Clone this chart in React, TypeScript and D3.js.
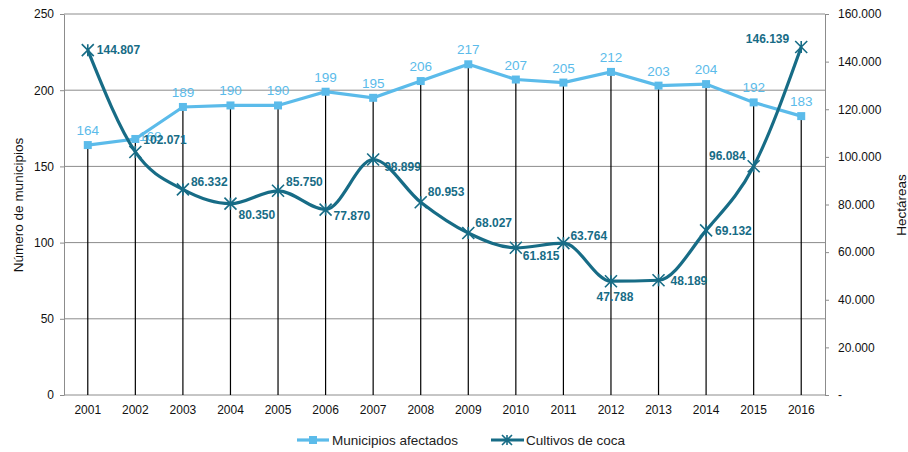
import React, { useEffect, useRef } from 'react';
import * as d3 from 'd3';

const years = ['2001', '2002', '2003', '2004', '2005', '2006', '2007', '2008', '2009', '2010', '2011', '2012', '2013', '2014', '2015', '2016'];
const municipios = [164, 168, 189, 190, 190, 199, 195, 206, 217, 207, 205, 212, 203, 204, 192, 183];
const coca = [144807, 102071, 86332, 80350, 85750, 77870, 98899, 80953, 68027, 61815, 63764, 47788, 48189, 69132, 96084, 146139];
const leftTicks = [0, 50, 100, 150, 200, 250];
const rightTicks = [0, 20000, 40000, 60000, 80000, 100000, 120000, 140000, 160000];
// where each coca label sits relative to its point: [dx, dy, anchor]
const cocaLabelPos: [number, number, string][] = [
  [9, 4, 'start'], [8, -8, 'start'], [8, -3, 'start'], [8, 15, 'start'], [8, -5, 'start'],
  [8, 10, 'start'], [11, 12, 'start'], [7, -6, 'start'], [7, -6, 'start'], [7, 12, 'start'],
  [7, -3, 'start'], [4, 20, 'middle'], [12, 5, 'start'], [9, 5, 'start'], [-8, -6, 'end'], [-12, -4, 'end'],
];
// municipio label offsets (the 2002 one sits behind the coca label, as in the source)
const munLabelPos: [number, number][] = years.map((_, i) => (i === 1 ? [15, 2] : [0, -10]));

const LIGHT = '#5BBBEA';
const DARK = '#176C86';
const FONT = '"Liberation Sans", Arial, sans-serif';

export default function App() {
  const ref = useRef<SVGSVGElement>(null);

  useEffect(() => {
    const svg = d3.select(ref.current);
    svg.selectAll('*').remove();
    const m = { left: 64, right: 825, top: 14, bottom: 395 };

    const x = d3.scaleBand().domain(years).range([m.left, m.right]);
    const cx = (d: string) => (x(d) as number) + x.bandwidth() / 2;
    const yL = d3.scaleLinear().domain([0, 250]).range([m.bottom, m.top]);
    const yR = d3.scaleLinear().domain([0, 160000]).range([m.bottom, m.top]);

    // gridlines
    svg.append('g').selectAll('line').data(leftTicks.slice(1)).enter().append('line')
      .attr('x1', m.left).attr('x2', m.right)
      .attr('y1', d => yL(d)).attr('y2', d => yL(d))
      .attr('stroke', '#8c8c8c').attr('stroke-width', 1);

    // axes
    const leftAxis = svg.append('g').attr('transform', `translate(${m.left},0)`)
      .call(d3.axisLeft(yL).tickValues(leftTicks).tickSize(4).tickSizeOuter(0));
    const rightAxis = svg.append('g').attr('transform', `translate(${m.right},0)`)
      .call(d3.axisRight(yR).tickValues(rightTicks).tickSize(4).tickSizeOuter(0)
        .tickFormat(d => (+d === 0 ? '-' : d3.format(',')(+d).replace(/,/g, '.'))));
    const bottomAxis = svg.append('g').attr('transform', `translate(0,${m.bottom})`)
      .call(d3.axisBottom(x).tickSize(0).tickSizeOuter(0));
    [leftAxis, rightAxis, bottomAxis].forEach(a => {
      a.selectAll('path').attr('stroke', '#8c8c8c');
      a.selectAll('line').attr('stroke', '#8c8c8c');
      a.selectAll('text').attr('font-family', FONT).attr('font-size', 12).attr('fill', '#111');
    });
    leftAxis.selectAll('text').attr('x', -10);
    rightAxis.selectAll('text').attr('x', 13);
    bottomAxis.selectAll('text').attr('y', 10);
    bottomAxis.select('path').remove();
    svg.append('line').attr('x1', m.left).attr('x2', m.right).attr('y1', m.bottom).attr('y2', m.bottom)
      .attr('stroke', '#8c8c8c');

    // drop lines
    svg.append('g').selectAll('line').data(municipios).enter().append('line')
      .attr('x1', (d, i) => cx(years[i])).attr('x2', (d, i) => cx(years[i]))
      .attr('y1', d => yL(d)).attr('y2', m.bottom)
      .attr('stroke', '#000').attr('stroke-width', 1.2);

    // municipios series
    const lineL = d3.line<number>().x((d, i) => cx(years[i])).y(d => yL(d));
    svg.append('path').datum(municipios).attr('d', lineL)
      .attr('fill', 'none').attr('stroke', LIGHT).attr('stroke-width', 3.2);
    svg.append('g').selectAll('rect').data(municipios).enter().append('rect')
      .attr('x', (d, i) => cx(years[i]) - 4).attr('y', d => yL(d) - 4)
      .attr('width', 8).attr('height', 8).attr('fill', LIGHT);
    svg.append('g').selectAll('text').data(municipios).enter().append('text')
      .attr('x', (d, i) => cx(years[i]) + munLabelPos[i][0]).attr('y', (d, i) => yL(d) + munLabelPos[i][1])
      .attr('text-anchor', 'middle').attr('font-family', FONT).attr('font-size', 13.5)
      .attr('fill', LIGHT).text(d => d);

    // coca series
    const lineR = d3.line<number>().x((d, i) => cx(years[i])).y(d => yR(d)).curve(d3.curveMonotoneX);
    svg.append('path').datum(coca).attr('d', lineR)
      .attr('fill', 'none').attr('stroke', DARK).attr('stroke-width', 3.2);
    const marks = svg.append('g').selectAll('g').data(coca).enter().append('g')
      .attr('transform', (d, i) => `translate(${cx(years[i])},${yR(d)})`)
      .attr('stroke', DARK).attr('stroke-width', 1.6);
    marks.append('path').attr('d', 'M-6,-6L6,6M-6,6L6,-6M0,-6L0,6').attr('fill', 'none');
    svg.append('g').selectAll('text').data(coca).enter().append('text')
      .attr('x', (d, i) => cx(years[i]) + cocaLabelPos[i][0])
      .attr('y', (d, i) => yR(d) + cocaLabelPos[i][1])
      .attr('text-anchor', (d, i) => cocaLabelPos[i][2])
      .attr('font-family', FONT).attr('font-size', 12).attr('font-weight', 'bold')
      .attr('fill', DARK).text(d => d3.format(',')(d).replace(/,/g, '.'));

    // axis titles
    svg.append('text').attr('transform', 'translate(23,205) rotate(-90)')
      .attr('text-anchor', 'middle').attr('font-family', FONT).attr('font-size', 13.5)
      .attr('fill', '#111').text('Número de municipios');
    svg.append('text').attr('transform', 'translate(906,205) rotate(-90)')
      .attr('text-anchor', 'middle').attr('font-family', FONT).attr('font-size', 13.5)
      .attr('fill', '#111').text('Hectáreas');

    // legend
    const lg = svg.append('g').attr('font-family', FONT).attr('font-size', 13.5).attr('fill', '#222');
    lg.append('line').attr('x1', 297).attr('x2', 329).attr('y1', 440).attr('y2', 440)
      .attr('stroke', LIGHT).attr('stroke-width', 3.2);
    lg.append('rect').attr('x', 309).attr('y', 436).attr('width', 8).attr('height', 8).attr('fill', LIGHT);
    lg.append('text').attr('x', 332).attr('y', 445).text('Municipios afectados');
    lg.append('line').attr('x1', 491).attr('x2', 524).attr('y1', 440).attr('y2', 440)
      .attr('stroke', DARK).attr('stroke-width', 3.2);
    lg.append('path').attr('d', 'M502,435L512,445M502,445L512,435M507,435L507,445')
      .attr('stroke', DARK).attr('stroke-width', 1.6);
    lg.append('text').attr('x', 526).attr('y', 445).text('Cultivos de coca');
  }, []);

  return (
    <svg ref={ref} width={908} height={452} style={{ position: 'absolute', left: 0, top: 0, background: '#fff' }} />
  );
}
